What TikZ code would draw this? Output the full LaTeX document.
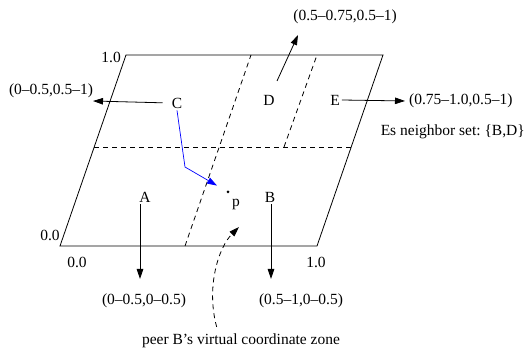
\documentclass[tikz,border=0pt]{standalone}
\usepackage{fontspec}
\setmainfont{Liberation Serif}
\usetikzlibrary{arrows.meta,positioning}

\tikzset{
  lbl/.style={font=\fontsize{15.5}{18}\selectfont, inner sep=2pt},
  zoneline/.style={line width=0.8pt},
  splitline/.style={line width=0.8pt, dash pattern=on 5pt off 4pt},
  ptr/.style={line width=0.8pt, -{Triangle[length=10pt,width=6.5pt]}},
}

\begin{document}
\begin{tikzpicture}[x=1pt,y=1pt]
    \useasboundingbox (0,0) rectangle (528,348);

    % corners of the coordinate space
    \coordinate (bl) at (60,102);
    \coordinate (br) at (317,102);
    \coordinate (tr) at (383,293);
    \coordinate (tl) at (126,293);
    \draw[zoneline] (bl) -- (br) -- (tr) -- (tl) -- cycle;

    % zone borders
    \coordinate (ml) at (94,201);
    \coordinate (mr) at (351,201);
    \coordinate (hb) at (185,102);
    \coordinate (ht) at (251,293);
    \coordinate (qb) at (284,201);
    \coordinate (qt) at (317,293);
    \draw[splitline] (ml) -- (mr);
    \draw[splitline] (hb) -- (ht);
    \draw[splitline] (qb) -- (qt);

    % axis values
    \node[lbl, anchor=east] (ytop) at (123,291) {1.0};
    \node[lbl] (yzero) at (50,113) {0.0};
    \node[lbl] (xzero) at (77,86) {0.0};
    \node[lbl] (xone) at (316,86) {1.0};

    % peers
    \node[lbl] (C) at (177,245) {C};
    \node[lbl] (D) at (269,248) {D};
    \node[lbl] (E) at (335,248) {E};
    \node[lbl] (A) at (145,151) {A};
    \node[lbl] (B) at (270,151) {B};

    % neighbor zones
    \coordinate (ctip) at (93,247);
    \node[lbl] (cz) at (51,257) {(0--0.5,0.5--1)};
    \draw[ptr, shorten <=7pt] (C.west) -- (ctip);

    \coordinate (dfoot) at (277,267);
    \coordinate (dtip) at (298,313);
    \node[lbl] (dz) at (345,331) {(0.5--0.75,0.5--1)};
    \draw[ptr] (dfoot) -- (dtip);

    \node[lbl, anchor=west] (ez) at (407,247) {(0.75--1.0,0.5--1)};
    \draw[ptr, shorten >=2pt] (E.east) -- (ez.west);
    \node[lbl, anchor=east] (eset) at (527,216) {Es neighbor set:\ \{B,D\}};

    \coordinate (atip) at (140,69);
    \node[lbl] (az) at (144,47) {(0--0.5,0--0.5)};
    \draw[ptr] (A.south -| atip) -- (atip);

    \coordinate (btip) at (271,69);
    \node[lbl] (bz) at (301,47) {(0.5--1,0--0.5)};
    \draw[ptr] (B.south -| btip) -- (btip);

    % point p and the route from C
    \node[circle, fill, inner sep=0pt, minimum size=3pt] (pdot) at (228,156) {};
    \node[lbl] (p) at (236,143) {p};
    \coordinate (bend) at (185,181);
    \draw[ptr, blue, line width=0.7pt, shorten >=11pt] (C.south) -- (bend) -- (pdot);

    % zone of B
    \node[lbl] (zone) at (241,7) {peer B's virtual coordinate zone};
    \coordinate (ztip) at (239,121);
    \draw[ptr, dash pattern=on 5pt off 4pt, shorten <=5pt] (zone.north -| 218,0)
        .. controls (206,60) and (218,100) .. (ztip);
\end{tikzpicture}
\end{document}
